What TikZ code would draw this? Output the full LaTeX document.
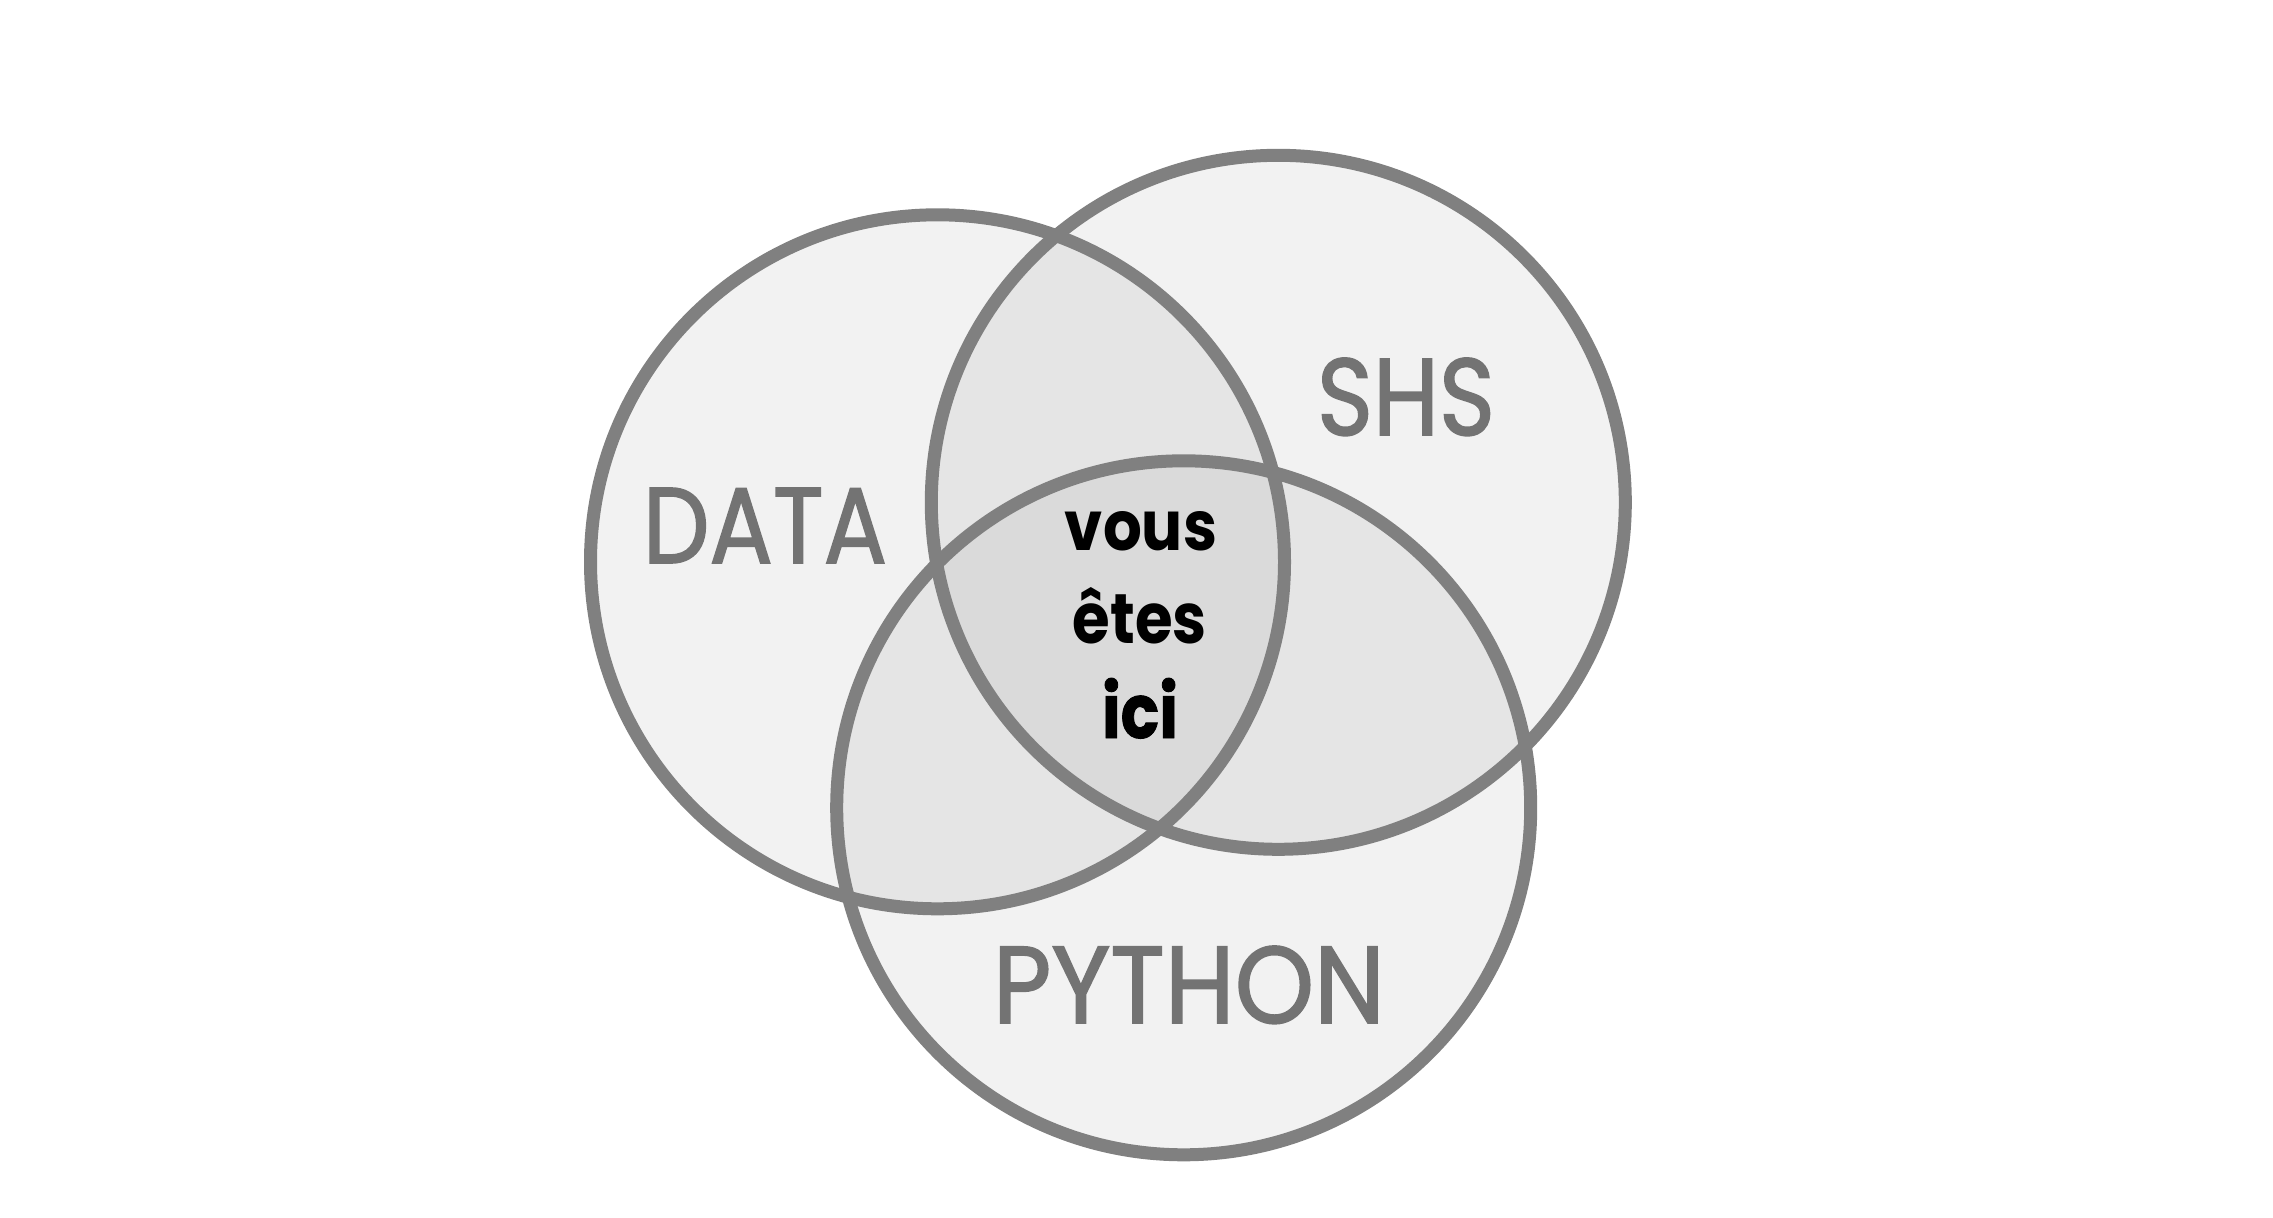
\documentclass[tikz,border=0pt]{standalone}
\usepackage{graphicx}
\usepackage{fontspec}
\setmainfont{Poppins}
\newfontfamily\labfont[FakeBold=1.6]{Poppins}
\newfontfamily\icifont[FakeBold=1.2]{Poppins Bold}
\definecolor{single}{HTML}{F2F2F2}
\definecolor{pair}{HTML}{E5E5E5}
\definecolor{triple}{HTML}{DADADA}
\definecolor{ringgray}{HTML}{808080}
\definecolor{labgray}{HTML}{737373}
\tikzset{
  ring/.style={draw=ringgray, line width=13pt},
  lab/.style={inner sep=0pt, anchor=base, text=labgray, font=\labfont},
  here/.style={inner sep=0pt, anchor=base, text=black, font=\bfseries},
}
\begin{document}
\begin{tikzpicture}[x=1pt,y=-1pt]
\useasboundingbox (0,0) rectangle (2273,1218);
\fill[white] (0,0) rectangle (2273,1218);
\def\R{347pt}
\coordinate (cd) at (937.5,561.8);
\coordinate (cs) at (1278.3,502.3);
\coordinate (cp) at (1183.7,807.8);
% single regions
\fill[single] (cd) circle[radius=\R];
\fill[single] (cs) circle[radius=\R];
\fill[single] (cp) circle[radius=\R];
% pairwise
\begin{scope}
  \clip (cd) circle[radius=\R];
  \fill[pair] (cs) circle[radius=\R];
  \fill[pair] (cp) circle[radius=\R];
\end{scope}
\begin{scope}
  \clip (cs) circle[radius=\R];
  \fill[pair] (cp) circle[radius=\R];
\end{scope}
% triple
\begin{scope}
  \clip (cd) circle[radius=\R];
  \clip (cs) circle[radius=\R];
  \fill[triple] (cp) circle[radius=\R];
\end{scope}
% outlines
\draw[ring] (cd) circle[radius=\R];
\draw[ring] (cs) circle[radius=\R];
\draw[ring] (cp) circle[radius=\R];
% labels
\node[lab] (data) at (765,563) {\resizebox{244pt}{75pt}{DATA}};
\node[lab] (shs) at (1406,435) {\resizebox{178pt}{77pt}{SHS}};
\node[lab] (python) at (1189,1023) {\resizebox{392pt}{77pt}{PYTHON}};
\node[here] (vous) at (1141,550) {\resizebox{152pt}{39pt}{vous}};
\node[here] (etes) at (1140,643) {\resizebox{134pt}{56pt}{êtes}};
\node[here, font=\icifont] (ici) at (1140,738) {\resizebox{76pt}{60pt}{ici}};
\end{tikzpicture}
\end{document}
